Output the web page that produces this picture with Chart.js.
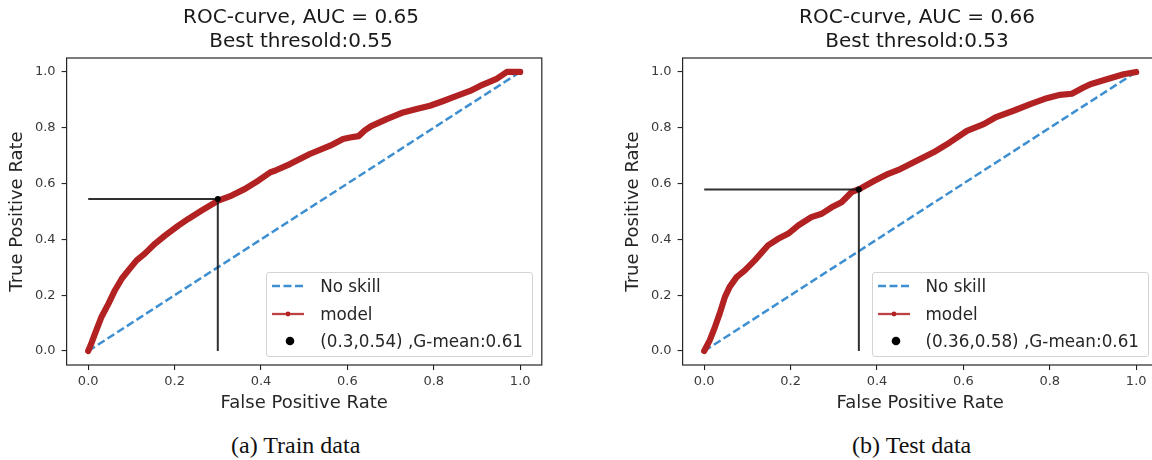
<!DOCTYPE html>
<html><head><meta charset="utf-8">
<script src="https://cdn.jsdelivr.net/npm/chart.js@4.4.0/dist/chart.umd.min.js"></script>
<style>
html,body{margin:0;padding:0;background:#fff;width:1152px;height:460px;overflow:hidden;position:relative}
.wrap{position:absolute;top:0;width:602px;height:420px}
canvas{display:block}
.legend{position:absolute;background:rgba(255,255,255,0.85);border:1px solid #d4d4d4;border-radius:3px;font-family:'DejaVu Sans';font-size:16.8px;color:#262626;padding:0 9px 1px 5px;box-sizing:border-box}
.row{display:flex;align-items:center;height:27.5px;white-space:nowrap}
.row svg{width:32px;height:14px;margin-right:16px;flex:none}
.cap{position:absolute;top:431px;width:400px;text-align:center;font-family:'Liberation Serif';font-size:24px;line-height:28px;color:#111}
</style></head>
<body>
<div class="wrap" id="w0" style="left:0px"><canvas id="c0" width="602" height="420" style="width:602px;height:420px"></canvas></div>
<div class="wrap" id="w1" style="left:616px"><canvas id="c1" width="602" height="420" style="width:602px;height:420px"></canvas></div>
<div class="cap" id="cap0" style="left:95.7px"></div>
<div class="cap" id="cap1" style="left:711.7px"></div>
<script>
// ---------- data ----------
const TRAIN_FPR = [0, 0.008, 0.016, 0.031, 0.047, 0.062, 0.078, 0.093, 0.112, 0.131, 0.155, 0.178, 0.209, 0.232, 0.263, 0.301, 0.332, 0.363, 0.394, 0.421, 0.432, 0.467, 0.513, 0.560, 0.590, 0.606, 0.626, 0.640, 0.655, 0.691, 0.729, 0.760, 0.791, 0.822, 0.853, 0.884, 0.907, 0.944, 0.969, 0.985, 1.0];
const TRAIN_TPR = [0, 0.030, 0.063, 0.123, 0.170, 0.218, 0.260, 0.289, 0.325, 0.349, 0.385, 0.414, 0.450, 0.474, 0.504, 0.539, 0.557, 0.581, 0.611, 0.640, 0.646, 0.670, 0.706, 0.736, 0.760, 0.765, 0.770, 0.790, 0.806, 0.831, 0.855, 0.867, 0.879, 0.896, 0.914, 0.932, 0.950, 0.974, 1.0, 1.0, 1.0];
const TEST_FPR = [0, 0.013, 0.025, 0.036, 0.048, 0.059, 0.075, 0.094, 0.117, 0.148, 0.171, 0.194, 0.218, 0.248, 0.272, 0.295, 0.318, 0.341, 0.360, 0.395, 0.426, 0.454, 0.500, 0.531, 0.569, 0.608, 0.647, 0.674, 0.716, 0.755, 0.793, 0.824, 0.851, 0.878, 0.894, 0.932, 0.971, 1.0];
const TEST_TPR = [0, 0.039, 0.087, 0.135, 0.194, 0.230, 0.265, 0.289, 0.325, 0.379, 0.402, 0.420, 0.450, 0.480, 0.492, 0.515, 0.533, 0.569, 0.581, 0.611, 0.635, 0.652, 0.688, 0.712, 0.748, 0.789, 0.813, 0.837, 0.861, 0.885, 0.906, 0.918, 0.922, 0.944, 0.956, 0.974, 0.992, 1.0];
const SKILL_X = [0, 1];
const SKILL_Y = [0, 1];
const TRAIN_BEST = [0.30, 0.545];
const TEST_BEST = [0.358, 0.579];
const TITLES = [['ROC-curve, AUC = 0.65', 'Best thresold:0.55'], ['ROC-curve, AUC = 0.66', 'Best thresold:0.53']];
const SERIES_LABELS = ['No skill', 'model'];
const POINT_LABELS = ['(0.3,0.54) ,G-mean:0.61', '(0.36,0.58) ,G-mean:0.61'];
const CAPTIONS = ['(a) Train data', '(b) Test data'];
const AXIS_TITLES = ['False Positive Rate', 'True Positive Rate'];
const TICKS = [0, 0.2, 0.4, 0.6, 0.8, 1.0];

// ---------- styles ----------
const FONT = 'DejaVu Sans';
const BLUE = '#3d8fd1', RED = '#b22222';

const framePlugin = {
  id: 'frame',
  afterDatasetsDraw(c) {
    const {ctx, chartArea: a} = c;
    ctx.save();
    ctx.strokeStyle = '#262626';
    ctx.lineWidth = 1.2;
    ctx.strokeRect(a.left, a.top, a.right - a.left, a.bottom - a.top);
    ctx.restore();
  }
};

const pts = (xs, ys) => xs.map((x, i) => ({x: x, y: ys[i]}));

function axis(pos, titleText, w) {
  const horiz = pos === 'bottom';
  return {
    type: 'linear', position: pos, min: -0.05, max: 1.05,
    afterBuildTicks: s => { s.ticks = TICKS.map(v => ({value: v})); },
    ticks: {callback: v => Number(v).toFixed(1), font: {family: FONT, size: 13}, color: '#3a3a3a', padding: horiz ? 4 : 6, maxRotation: 0, autoSkip: false},
    grid: {drawOnChartArea: false, drawTicks: true, tickLength: 5, tickColor: '#222', lineWidth: 1.1},
    border: {display: false},
    title: {display: true, text: titleText, font: {family: FONT, size: 18}, color: '#262626',
            padding: horiz ? {top: 0, bottom: 6.2} : {top: 6.2, bottom: 0}},
    afterFit: s => { if (horiz) s.height = w; else s.width = w; }
  };
}

function makeChart(idx, fpr, tpr, best) {
  const canvas = document.getElementById('c' + idx);
  const chart = new Chart(canvas, {
    type: 'scatter',
    data: {
      datasets: [
        {label: SERIES_LABELS[0], data: pts(SKILL_X, SKILL_Y), showLine: true, borderColor: BLUE, borderWidth: 2.5, borderDash: [8, 3.5], pointRadius: 0, order: 4},
        {label: SERIES_LABELS[1], data: pts(fpr, tpr), showLine: true, borderColor: RED, backgroundColor: RED, borderWidth: 6.2, pointRadius: 0, borderCapStyle: 'round', borderJoinStyle: 'round', order: 3},
        {label: 'threshold', data: [{x: 0, y: best[1]}, {x: best[0], y: best[1]}, {x: best[0], y: 0}], showLine: true, borderColor: 'rgba(25,25,25,0.9)', borderWidth: 2, pointRadius: 0, order: 2},
        {label: POINT_LABELS[idx], data: [{x: best[0], y: best[1]}], showLine: false, pointRadius: 3, backgroundColor: '#000', borderWidth: 0, order: 1}
      ]
    },
    options: {
      responsive: false, animation: false, devicePixelRatio: 1,
      layout: {padding: 0},
      plugins: {
        legend: {display: false}, tooltip: {enabled: false},
        title: {display: true, text: TITLES[idx], font: {family: FONT, size: 20, weight: 'normal', lineHeight: 1.2}, color: '#1a1a1a', padding: {top: 6, bottom: 4}}
      },
      scales: {
        x: axis('bottom', AXIS_TITLES[0], 55),
        y: axis('left', AXIS_TITLES[1], 66.6),
        yRight: {type: 'linear', position: 'right', display: true, ticks: {display: false}, grid: {display: false}, border: {display: false}, afterFit: s => { s.width = 60.2; }}
      }
    },
    plugins: [framePlugin]
  });

  // HTML legend built from the datasets' styles
  const a = chart.chartArea;
  const ds = chart.data.datasets;
  const lg = document.createElement('div');
  lg.className = 'legend';
  lg.style.right = (602 - (a.right - 8.8)) + 'px';
  lg.style.bottom = (420 - (a.bottom - 8)) + 'px';
  const rows = [
    {svg: `<line x1="0" y1="7" x2="32" y2="7" stroke="${ds[0].borderColor}" stroke-width="2.5" stroke-dasharray="8 3.5"/>`, text: ds[0].label},
    {svg: `<line x1="0" y1="7" x2="32" y2="7" stroke="${ds[1].borderColor}" stroke-opacity="0.85" stroke-width="2.3"/><circle cx="16" cy="7" r="2.4" fill="${ds[1].borderColor}"/>`, text: ds[1].label},
    {svg: `<circle cx="18" cy="7" r="4.3" fill="${ds[3].backgroundColor}"/>`, text: ds[3].label}
  ];
  rows.forEach(r => {
    const row = document.createElement('div');
    row.className = 'row';
    row.innerHTML = `<svg viewBox="0 0 32 14">${r.svg}</svg>`;
    const span = document.createElement('span');
    span.textContent = r.text;
    row.appendChild(span);
    lg.appendChild(row);
  });
  document.getElementById('w' + idx).appendChild(lg);
  document.getElementById('cap' + idx).textContent = CAPTIONS[idx];
}

makeChart(0, TRAIN_FPR, TRAIN_TPR, TRAIN_BEST);
makeChart(1, TEST_FPR, TEST_TPR, TEST_BEST);
</script>
</body></html>
